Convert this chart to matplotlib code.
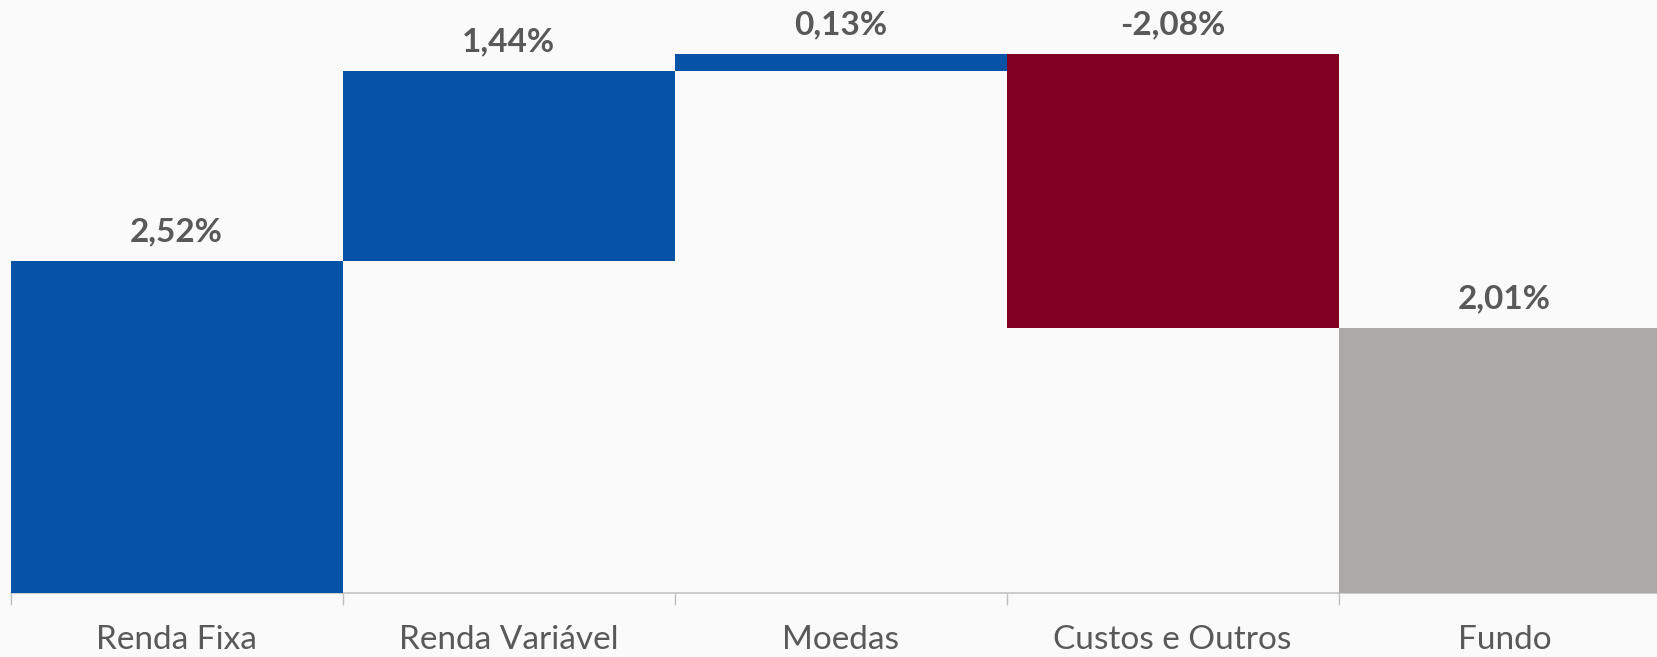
import matplotlib

matplotlib.use("Agg")
import matplotlib.pyplot as plt
import matplotlib.transforms as mtransforms

plt.rcParams["font.family"] = ["Lato", "DejaVu Sans"]

categories = ["Renda Fixa", "Renda Variável", "Moedas", "Custos e Outros", "Fundo"]
values = [2.52, 1.44, 0.13, -2.08, 2.01]
labels = ["2,52%", "1,44%", "0,13%", "-2,08%", "2,01%"]
is_total = [False, False, False, False, True]

BLUE, RED, GREY = "#0652A6", "#7F0020", "#ABAAA8"
TEXT = "#595959"
AXIS = "#BFBFBF"

W, H, DPI = 1658, 657, 100
fig = plt.figure(figsize=(W / DPI, H / DPI), dpi=DPI, facecolor="#FAFAFA")
# axes spill slightly off the right edge, like the original (last bar is clipped)
ax = fig.add_axes([10.6 / W, 64 / H, 1660 / W, 593 / H])
ax.set_facecolor("#FAFAFA")

# waterfall bottoms/heights
bottoms, heights, colors, tops = [], [], [], []
run = 0.0
for v, tot in zip(values, is_total):
    if tot:
        b, h, c = 0.0, v, GREY
    else:
        b = run if v >= 0 else run + v
        h = abs(v)
        c = BLUE if v >= 0 else RED
        run += v
    bottoms.append(b); heights.append(h); colors.append(c)
    tops.append(b + h if (tot or v >= 0) else run - v)

x = list(range(len(categories)))
ax.bar(x, heights, bottom=bottoms, width=1.0, color=colors, linewidth=0, zorder=2)

for xi, top, lab in zip(x, tops, labels):
    ax.annotate(lab, (xi, top), xytext=(0, 14), textcoords="offset points",
                ha="center", va="baseline", fontsize=24, fontweight="bold",
                color=TEXT)

trans = mtransforms.blended_transform_factory(ax.transData, ax.transAxes)
for xi, cat in zip(x, categories):
    ax.annotate(cat, (xi, 0), xycoords=trans, xytext=(0, -40),
                textcoords="offset points", ha="center", va="baseline",
                fontsize=24, color=TEXT, annotation_clip=False)

ax.set_xlim(-0.5, len(categories) - 0.5)
ax.set_ylim(0, 4.50)
ax.set_xticks([i - 0.5 for i in range(len(categories) + 1)])
ax.set_xticklabels([])
ax.tick_params(axis="x", length=8.5, width=1.0, color=AXIS, direction="out")
ax.set_yticks([])
for s in ("top", "right", "left"):
    ax.spines[s].set_visible(False)
ax.spines["bottom"].set_color(AXIS)
ax.spines["bottom"].set_linewidth(1.1)
ax.spines["bottom"].set_zorder(1)

fig.savefig("out.png", dpi=DPI, facecolor=fig.get_facecolor())
